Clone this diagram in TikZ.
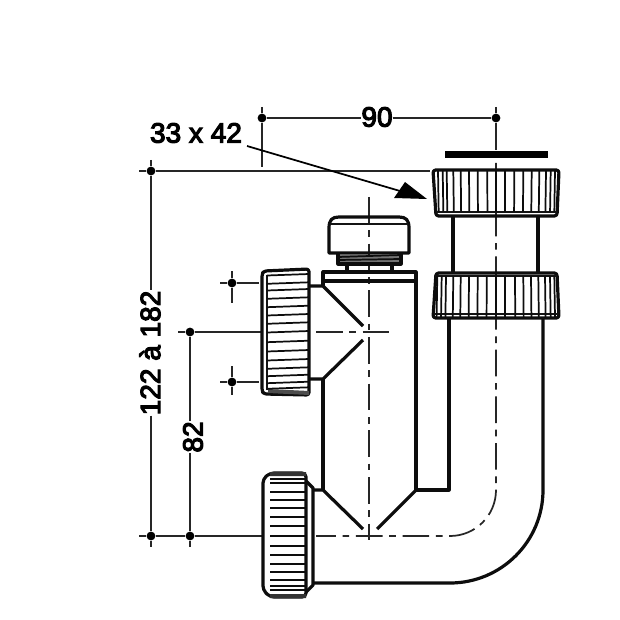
\documentclass[tikz,border=0pt]{standalone}
\usepackage{fontspec}
\setmainfont{Liberation Sans}[FakeBold=4]
\tikzset{
  outline/.style={line width=2.4pt,line join=round,black!95},
  thinout/.style={line width=1.6pt,black!92},
  knurl/.style={line width=1.3pt,black!95},
  dimline/.style={line width=1.2pt,black!85},
  axisline/.style={line width=1.3pt,black!85,dash pattern=on 20pt off 5pt on 5pt off 5pt},
  dimdot/.style={circle,fill=black,inner sep=0pt,minimum size=6.6pt},
  dimtext/.style={font=\fontsize{21}{21}\selectfont,inner sep=0pt,fill=white},
}
\begin{document}
\begin{tikzpicture}[x=0.75pt,y=-0.75pt]
\useasboundingbox (0,0) rectangle (620,620);
% --- axes
\draw[axisline] (369,197) -- (369,540);
\draw[axisline] (316,332) -- (390,332);
\draw[axisline] (496,163) -- (496,490) arc (0:90:46) -- (316,536);
% --- dimension anchors
\node[dimdot] (d90l) at (262,118) {};
\node[dimdot] (d90r) at (496,118) {};
\node[dimdot] (dHt) at (151,171) {};
\node[dimdot] (dHb) at (151,536) {};
\node[dimdot] (d82t) at (190,332) {};
\node[dimdot] (d82b) at (190,536) {};
\node[dimdot] (dst) at (232,283) {};
\node[dimdot] (dsb) at (232,382) {};
\node[dimtext] (t90) at (377,117) {90};
\node[dimtext,rotate=90] (tH) at (150,353) {122 à 182};
\node[dimtext,rotate=90] (t82) at (193,437) {82};
\node[dimtext,fill=none] (t33) at (196,133) {33 x 42};
% --- dimension lines
\draw[dimline] (d90l) -- (d90l -| t90.west) (d90r -| t90.east) -- (d90r);
\draw[dimline] (262,107) -- (d90l) -- (262,167);
\draw[dimline] (496,107) -- (d90r) -- (496,150);
\draw[dimline] (139,171) -- (dHt) -- (430,171);
\draw[dimline] (151,160) -- (dHt) -- (dHt |- tH.east);
\draw[dimline] (dHt |- tH.west) -- (dHb) -- (151,547);
\draw[dimline] (d82t) -- (d82t |- t82.east);
\draw[dimline] (d82t |- t82.west) -- (d82b) -- (190,547);
\draw[dimline] (178,332) -- (d82t) -- (262,332);
\draw[dimline] (139,536) -- (dHb) -- (d82b) -- (262,536);
\draw[dimline] (220,283) -- (dst) -- (259,283) (232,271) -- (dst) -- (232,303);
\draw[dimline] (220,382) -- (dsb) -- (259,382) (232,366) -- (dsb) -- (232,395);
% --- arrow
\coordinate (arrS) at (247,146);
\coordinate (arrE) at (400,191);
\draw[line width=1.3pt,black] (arrS) -- (arrE);
\fill[black] (427,199) -- (405,182) -- (394,198) -- cycle;
% --- top bar
\fill[black] (445,151) rectangle (548,158);
% --- upper nut
\draw[outline,rounded corners=2pt] (433,170) -- (559,170) -- (557,216) -- (436,216) -- cycle;
\draw[thinout] (436,212) -- (557,212);
\foreach \x in {438,442.7,446.7,453.3,460.7,469,477.7,487.3,496,505,514.3,523.3,531.7,539.3,546,550.7,555}
  \draw[knurl] (\x,171) -- ({\x+(\x-496)*(-0.012)},212);
% --- link between nuts
\draw[outline] (453,217) -- (453,273) (538,217) -- (538,273);
% --- lower nut
\draw[outline,rounded corners=2pt] (436,273) -- (557,273) -- (559,318) -- (433,318) -- cycle;
\draw[thinout] (435,276) -- (557,276) (434,314) -- (558,314);
\foreach \x in {437.3,441.7,446,453.3,460.7,469,477.7,486.7,496,505,515,523.3,531,538.3,545,550,554.3}
  \draw[knurl] (\x,276) -- ({\x+(\x-496)*(0.012)},317);
% --- pipe
\draw[outline] (449,319) -- (449,490) -- (416,490);
\draw[outline] (543,319) -- (543,490) arc (0:90:93) -- (313,583);
% --- body
\draw[outline] (416,490) -- (416,272) -- (323,272) -- (323,286);
\draw[outline] (323,281) -- (416,281);
\draw[outline] (323,379) -- (323,490);
\draw[outline] (309,286) -- (323,286) -- (363,326);
\draw[outline] (309,379) -- (323,379) -- (363,340);
\draw[outline] (313,490) -- (323,490) -- (363,529);
\draw[outline] (416,490) -- (377,529);
% --- cap
\draw[outline] (329,253) -- (329,228) .. controls (329,220) and (332,217) .. (339,217) -- (399,217) .. controls (406,217) and (409,220) .. (409,228) -- (409,253) -- cycle;
\draw[thinout] (330,224) -- (408,224);
\fill[black!55] (339,255) rectangle (400,262);
\draw[outline] (338,253) -- (338,264) -- (401,264) -- (401,253);
\draw[knurl] (338,257) -- (401,255) (338,260) -- (401,259);
\draw[outline] (347,264) -- (347,272) (392,264) -- (392,272);
% --- upper left nut
\draw[outline,rounded corners=2pt] (309,269) -- (264,271) -- (262,274) -- (262,391) -- (264,394) -- (309,395) -- cycle;
\draw[thinout] (267,275) -- (267,390);
\fill[black!70] (268,389) -- (309,391) -- (309,395) -- (268,393) -- cycle;
\foreach \y in {275,283.3,290,298.3,306.7,315,323.3,332,341.7,351,360,368.3,375.7,382.7,388.3}
  \draw[knurl] (267,\y+0.5) -- (309,\y-1);
% --- lower left nut
\draw[outline,rounded corners=3pt] (306,473) -- (270,473) -- (263,479) -- (263,590) -- (270,597) -- (306,597) -- cycle;
\fill[black!80] (270,472) rectangle (306,476) (270,594) rectangle (306,598);
\foreach \y in {479.3,483.3,491.7,500,507.7,516.7,525.7,536,545.7,555,564,572.3,580,585.7,590}
  \draw[knurl] (270,\y) -- (306,\y);
\draw[outline] (306,481) -- (313,488) -- (313,585) -- (306,592);
\end{tikzpicture}
\end{document}
